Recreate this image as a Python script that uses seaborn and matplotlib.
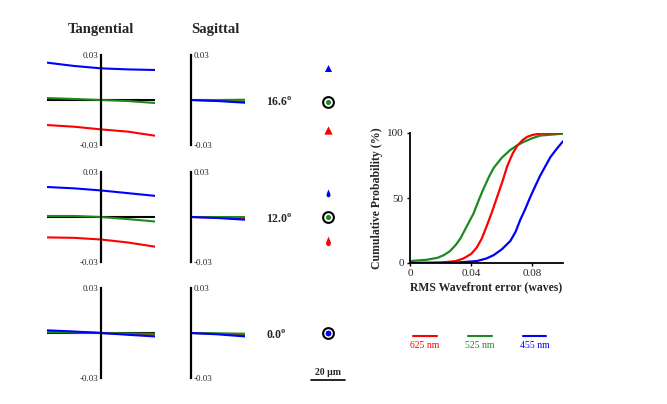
import numpy as np
import pandas as pd
import matplotlib.pyplot as plt
from matplotlib.lines import Line2D
import seaborn as sns

sns.set_theme(style='white')
plt.rcParams['font.family'] = ['Liberation Serif', 'DejaVu Serif']
plt.rcParams['mathtext.fontset'] = 'custom'
plt.rcParams['mathtext.rm'] = 'Liberation Serif'
plt.rcParams['mathtext.bf'] = 'Liberation Serif:bold'

RED, GREEN, BLUE = '#ff0000', '#1e8a1e', '#0000ff'

# field angles
angles = ['16.6', '12.0', '0.0']

# ray fans, tangential (pupil -1..1) and sagittal (pupil 0..1)
pupil_t = [-1, -0.5, 0, 0.5, 1]
tan_red = [[-0.0167, -0.0178, -0.0196, -0.0211, -0.0238],
           [-0.0136, -0.0139, -0.0150, -0.0170, -0.0198],
           [0.0011, 0.0006, 0.0, -0.0006, -0.0011]]
tan_green = [[0.0013, 0.0007, 0.0, -0.0007, -0.0020],
             [0.0007, 0.0007, 0.0, -0.0014, -0.0030],
             [0.0005, 0.0003, 0.0, -0.0003, -0.0005]]
tan_blue = [[0.0249, 0.0227, 0.0211, 0.0204, 0.0200],
            [0.0200, 0.0191, 0.0177, 0.0159, 0.0141],
            [0.0018, 0.0010, 0.0, -0.0012, -0.0023]]

pupil_s = [0, 0.5, 1]
sag_red = [[0, -0.0004, -0.0012], [0, -0.0004, -0.0012], [0, -0.0006, -0.0015]]
sag_green = [[0, 0, 0.0002], [0, 0, 0.0], [0, -0.0002, -0.0005]]
sag_blue = [[0, -0.0007, -0.0018], [0, -0.0007, -0.0018], [0, -0.0009, -0.0023]]

# spot centroids relative to the green chief ray (um)
spot_red = [-16.5, -14.0, 0.0]
spot_blue = [20.0, 14.0, 0.0]

# cumulative RMS wavefront error
cdf_red_x = [0, 0.02, 0.03, 0.035, 0.04, 0.0437, 0.047, 0.050, 0.0535, 0.057, 0.0605, 0.0634, 0.067,
             0.070, 0.0735, 0.0765, 0.08, 0.085, 0.1]
cdf_red_y = [0, 0.3, 1.5, 3.5, 7, 12, 19, 28, 39, 51, 63, 74, 84, 90, 94.5, 97, 98.5, 99.5, 100]
cdf_green_x = [0, 0.011, 0.018, 0.022, 0.026, 0.03, 0.033, 0.037, 0.0415, 0.0448, 0.048, 0.0515,
               0.0546, 0.06, 0.0656, 0.07, 0.074, 0.08, 0.085, 0.1]
cdf_green_y = [1.5, 2.5, 4, 6, 9, 14, 19, 28, 38, 48, 57, 66, 73, 81, 87, 90.5, 93, 96, 98, 99.5]
cdf_blue_x = [0, 0.03, 0.0437, 0.05, 0.0546, 0.06, 0.0656, 0.069, 0.072, 0.0755, 0.0787, 0.082,
              0.085, 0.0885, 0.0918, 0.096, 0.1]
cdf_blue_y = [0, 0.3, 1.5, 3.5, 6, 10.5, 17, 24, 33, 42, 51, 59.5, 67, 74.5, 81.5, 88, 93.6]

legend_labels = ['625 nm', '525 nm', '455 nm']

W, H = 667, 404
fig = plt.figure(figsize=(W / 100, H / 100), dpi=100)


def px_axes(x0, y0, x1, y1):
    return fig.add_axes([x0 / W, 1 - y1 / H, (x1 - x0) / W, (y1 - y0) / H])


def fan_style(ax, side):
    ax.set_ylim(-0.03, 0.03)
    ax.set_xticks([])
    ax.set_yticks([-0.03, 0.03])
    ax.set_yticklabels(['-0.03', '0.03'])
    ax.set_xlabel('')
    ax.set_ylabel('')
    for s in ['top', 'bottom', 'left', 'right']:
        ax.spines[s].set_visible(False)
    sp = 'left' if side == 'left' else 'right'
    if side == 'right':
        ax.yaxis.tick_right()
    ax.spines[sp].set_visible(True)
    ax.spines[sp].set_position(('data', 0))
    ax.spines[sp].set_linewidth(1.6)
    ax.spines[sp].set_color('black')
    ax.tick_params(axis='y', length=0, pad=2, labelsize=6.5)
    ax.patch.set_alpha(0)


row_centres = [100, 217, 333]

fig.text(101 / W, 1 - 29 / H, 'Tangential', ha='center', va='center', fontsize=10.5, fontweight='bold')
fig.text(215 / W, 1 - 29 / H, 'Sagittal', ha='center', va='center', fontsize=10.5, fontweight='bold')

for i, yc in enumerate(row_centres):
    # tangential
    ax = px_axes(47, yc - 45, 155, yc + 45)
    ax.axhline(0, color='black', lw=1.5, zorder=1)
    for vals, col in [(tan_red[i], RED), (tan_green[i], GREEN), (tan_blue[i], BLUE)]:
        sns.lineplot(x=pupil_t, y=vals, color=col, lw=1.5, ax=ax, zorder=2)
    ax.set_xlim(-1, 1)
    fan_style(ax, 'left')

    # sagittal
    ax = px_axes(191, yc - 45, 245, yc + 45)
    for vals, col in [(sag_red[i], RED), (sag_green[i], GREEN), (sag_blue[i], BLUE)]:
        sns.lineplot(x=pupil_s, y=vals, color=col, lw=1.5, ax=ax, zorder=2)
    ax.set_xlim(0, 1)
    fan_style(ax, 'right')

    fig.text(266 / W, 1 - (yc + 2) / H, angles[i] + r'$^{\mathbf{o}}$', ha='left', va='center',
             fontsize=8.5, fontweight='bold')

# spot diagrams
tear = [(0, 1), (0.45, -0.1), (0.5, -0.5), (0.3, -0.85), (0, -0.95), (-0.3, -0.85), (-0.5, -0.5), (-0.45, -0.1)]
spot_markers = ['^', tear, 'o']
red_sizes = [36, 50, 16]
blue_sizes = [26, 34, 16]
for i, yc in enumerate(row_centres):
    yc = yc + 2 if i == 0 else yc
    sp = px_axes(311, yc - 51, 345, yc + 51)
    sp.set_xlim(-10, 10)
    sp.set_ylim(-30, 30)
    sp.axis('off')
    sp.scatter([0], [0], s=60, facecolor='white', edgecolor='black', linewidth=1.5, zorder=1)
    m = spot_markers[i]
    sp.scatter([0], [spot_red[i]], s=red_sizes[i], marker=m, color=RED, linewidth=0, zorder=2)
    sp.scatter([0], [0], s=14, marker='o', color=GREEN, linewidth=0, zorder=3)
    sp.scatter([0], [spot_blue[i]], s=blue_sizes[i], marker=m, color=BLUE, linewidth=0, zorder=4)
    if i == 2:
        sp.plot([-10, 10], [-27.6, -27.6], color='black', lw=1.2, clip_on=False)
        sp.text(0, -23.3, '20 µm', ha='center', va='center', fontsize=7, fontweight='bold')

# cumulative probability
cax = px_axes(410, 133, 563, 263)
sns.lineplot(x=cdf_green_x, y=cdf_green_y, color=GREEN, lw=1.6, ax=cax)
sns.lineplot(x=cdf_red_x, y=cdf_red_y, color=RED, lw=1.6, ax=cax)
sns.lineplot(x=cdf_blue_x, y=cdf_blue_y, color=BLUE, lw=1.6, ax=cax)
cax.set_xlim(0, 0.1)
cax.set_ylim(0, 100)
cax.set_xticks([0, 0.04, 0.08])
cax.set_xticklabels(['0', '0.04', '0.08'])
cax.set_yticks([0, 50, 100])
sns.despine(ax=cax)
for s in ['left', 'bottom']:
    cax.spines[s].set_linewidth(1.3)
    cax.spines[s].set_color('black')
cax.tick_params(axis='both', length=2.5, width=1, direction='out', labelsize=8, pad=2,
                left=True, bottom=True, color='black')
cax.set_xlabel('RMS Wavefront error (waves)', fontsize=8.5, fontweight='bold', labelpad=2)
cax.set_ylabel('Cumulative Probability (%)', fontsize=8.5, fontweight='bold', labelpad=3)

# legend
for (x0, x1), col, lab in zip([(413, 437), (468, 492), (523, 546)], [RED, GREEN, BLUE], legend_labels):
    fig.add_artist(Line2D([x0 / W, x1 / W], [1 - 336 / H, 1 - 336 / H], color=col, lw=1.5,
                          transform=fig.transFigure))
    fig.text((x0 + x1) / 2 / W, 1 - 345 / H, lab, color=col, ha='center', va='center', fontsize=7)

fig.savefig('out.png', dpi=100)
